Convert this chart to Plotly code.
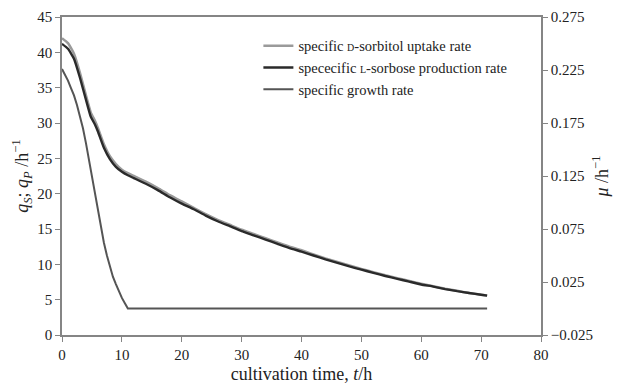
import plotly.graph_objects as go

# time points (h)
t_main = [0, 1, 2, 3, 4, 4.8, 5.5, 6, 7, 8, 9, 10, 11, 12, 14, 16, 18, 20, 22, 24, 26, 28,
          30, 32, 34, 36, 38, 40, 42, 44, 46, 48, 50, 52, 54, 56, 58, 60, 62, 64, 66, 68, 70, 71]
q_sorbitol = [42.0, 41.3, 39.8, 37.1, 33.9, 31.5, 30.3, 29.3, 27.0, 25.3, 24.2, 23.4, 22.9, 22.5,
              21.7, 20.8, 19.8, 18.9, 18.0, 17.1, 16.3, 15.6, 14.9, 14.3, 13.7, 13.1, 12.5, 12.0,
              11.4, 10.85, 10.35, 9.85, 9.35, 8.9, 8.45, 8.05, 7.65, 7.25, 6.9, 6.55, 6.25, 5.95,
              5.7, 5.6]
q_sorbose = [41.2, 40.5, 39.1, 36.4, 33.3, 30.9, 29.8, 28.8, 26.5, 24.9, 23.8, 23.1, 22.6, 22.2,
             21.4, 20.5, 19.5, 18.6, 17.8, 16.9, 16.1, 15.4, 14.7, 14.1, 13.5, 12.9, 12.3, 11.8,
             11.25, 10.7, 10.2, 9.7, 9.25, 8.8, 8.35, 7.95, 7.55, 7.15, 6.85, 6.5, 6.2, 5.95,
             5.7, 5.57]

t_mu = [0, 0.5, 1, 1.5, 2, 2.5, 3, 3.5, 4, 4.5, 5, 5.5, 6, 6.5, 7, 7.5, 8, 8.5, 9, 9.5, 10,
        10.5, 11, 71]
mu = [0.226, 0.221, 0.215, 0.208, 0.201, 0.192, 0.182, 0.170, 0.156, 0.140, 0.123, 0.107,
      0.092, 0.077, 0.062, 0.050, 0.039, 0.030, 0.023, 0.016, 0.010, 0.005, 0.0, 0.0]

names = ["specific <span style='font-size:10px'>D</span>-sorbitol uptake rate",
         "spececific <span style='font-size:10px'>L</span>-sorbose production rate",
         "specific growth rate"]

font = "Liberation Serif"
axcol = "#858585"

fig = go.Figure()
fig.add_trace(go.Scatter(x=t_main, y=q_sorbitol, mode="lines", name=names[0],
                         line=dict(color="#9a9a9a", width=2.5, shape="spline", smoothing=0.4)))
fig.add_trace(go.Scatter(x=t_main, y=q_sorbose, mode="lines", name=names[1],
                         line=dict(color="#2a2a2a", width=2.4, shape="spline", smoothing=0.4)))
fig.add_trace(go.Scatter(x=t_mu, y=mu, mode="lines", name=names[2], yaxis="y2",
                         line=dict(color="#555555", width=2)))

fig.update_layout(
    width=619, height=390,
    margin=dict(l=62, r=78, t=17, b=55),
    paper_bgcolor="white", plot_bgcolor="white",
    font=dict(family=font, size=13, color="#222"),
    showlegend=True,
    legend=dict(x=0.41, y=0.96, xanchor="left", yanchor="top",
                font=dict(family=font, size=14.5, color="#222"),
                bgcolor="rgba(0,0,0,0)", tracegroupgap=0, itemwidth=30),
    xaxis=dict(range=[0, 80], dtick=10, tick0=0, showgrid=False, zeroline=False,
               showline=True, linecolor=axcol, linewidth=1.5, mirror=True,
               ticks="outside", ticklen=5, tickcolor=axcol, automargin=False,
               tickfont=dict(family=font, size=15),
               title=dict(text="cultivation time, <i>t</i>/h", font=dict(family=font, size=18),
                          standoff=6)),
    yaxis=dict(range=[0, 45], dtick=5, tick0=0, showgrid=False, zeroline=False,
               showline=True, linecolor=axcol, linewidth=1.5, automargin=False,
               ticks="outside", ticklen=5, tickcolor=axcol,
               tickfont=dict(family=font, size=15),
               title=dict(text="<i>q</i><sub><i>S</i></sub>; <i>q</i><sub><i>P</i></sub> /h<sup>−1</sup>",
                          font=dict(family=font, size=18), standoff=4)),
    yaxis2=dict(range=[-0.025, 0.275], dtick=0.05, tick0=-0.025, overlaying="y", side="right",
                showgrid=False, zeroline=False, showline=True, linecolor=axcol, linewidth=1.5,
                ticks="outside", ticklen=5, tickcolor=axcol, tickformat=".3f", automargin=False,
                tickfont=dict(family=font, size=15),
                title=dict(text="<i>μ</i> /h<sup>−1</sup>", font=dict(family=font, size=18),
                           standoff=3)),
)

fig.write_html("out.html")
